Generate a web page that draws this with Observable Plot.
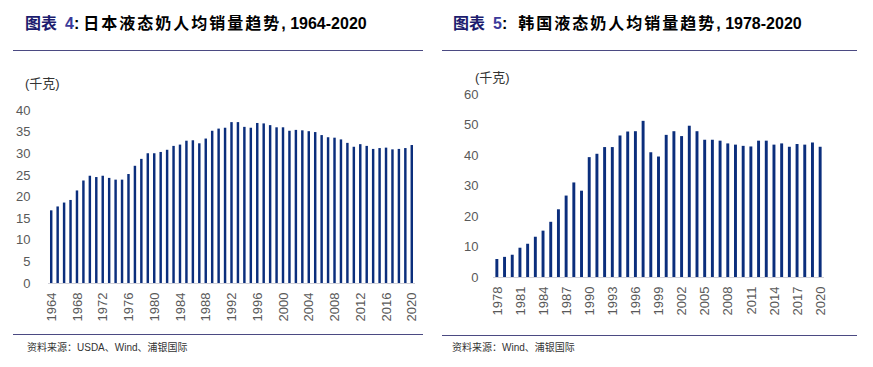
<!DOCTYPE html>
<html><head><meta charset="utf-8">
<script src="https://cdn.jsdelivr.net/npm/d3@7"></script>
<script src="https://cdn.jsdelivr.net/npm/@observablehq/plot@0.6"></script>
<style>
html,body{margin:0;padding:0;background:#fff;width:873px;height:367px;overflow:hidden;position:relative;font-family:"Liberation Sans","Noto Sans CJK SC",sans-serif;}
.abs{position:absolute;white-space:nowrap;}
.title{font-size:16px;font-weight:bold;color:#000;line-height:1;}
.title .lab{color:#1c1c6e;letter-spacing:0px;}
.title .num{color:#3a3a9a;margin-left:8px;}
.title .cjk{font-family:"Noto Sans CJK SC";letter-spacing:2px;}
.rule{position:absolute;height:0;border-top:1.3px solid #4b4a82;}
.unit{font-size:13px;color:#333;font-family:"Liberation Sans","Noto Sans CJK SC";line-height:1;}
.cap{font-size:10px;color:#333;line-height:1;font-family:"Liberation Sans","Noto Sans CJK SC";}
</style></head>
<body>
<div class="abs title" style="left:25px;top:14px;"><span class="lab">图表</span><span class="num">4</span>:<span class="cjk" style="margin-left:4px;">日本液态奶人均销量趋势</span>, 1964-2020</div>
<div class="abs title" style="left:453px;top:14px;"><span class="lab">图表</span><span class="num">5</span>:<span class="cjk" style="margin-left:11px;">韩国液态奶人均销量趋势</span>, 1978-2020</div>
<div class="rule" style="left:13px;top:50px;width:410px;"></div>
<div class="rule" style="left:442px;top:50px;width:415px;"></div>
<div class="abs unit" style="left:25px;top:77px;">(千克)</div>
<div class="abs unit" style="left:475px;top:71px;">(千克)</div>
<div id="left" class="abs" style="left:0;top:60px;"></div>
<div id="right" class="abs" style="left:440px;top:60px;"></div>
<div class="rule" style="left:13px;top:334px;width:410px;"></div>
<div class="rule" style="left:442px;top:335px;width:415px;"></div>
<div class="abs cap" style="left:27px;top:343px;">资料来源：USDA、Wind、浦银国际</div>
<div class="abs cap" style="left:452px;top:343px;">资料来源：Wind、浦银国际</div>
<script>
const jpYears = [1964,1965,1966,1967,1968,1969,1970,1971,1972,1973,1974,1975,1976,1977,1978,1979,1980,1981,1982,1983,1984,1985,1986,1987,1988,1989,1990,1991,1992,1993,1994,1995,1996,1997,1998,1999,2000,2001,2002,2003,2004,2005,2006,2007,2008,2009,2010,2011,2012,2013,2014,2015,2016,2017,2018,2019,2020];
const jpValues = [16.8,17.7,18.6,19.2,21.4,23.7,24.8,24.5,24.8,24.3,23.9,23.9,25.2,27.1,28.7,30.0,30.0,30.3,30.8,31.7,32.0,32.9,33.0,32.3,33.4,35.2,35.7,35.9,37.2,37.2,36.1,35.9,37.0,36.9,36.5,36.0,36.0,35.2,35.4,35.3,35.1,34.9,34.2,33.7,33.6,33.2,32.4,31.5,32.1,31.7,31.0,31.2,31.3,30.9,31.0,31.2,31.9];
const jpTicks = [1964,1968,1972,1976,1980,1984,1988,1992,1996,2000,2004,2008,2012,2016,2020];
const jpYTicks = [0,5,10,15,20,25,30,35,40];

const krYears = [1978,1979,1980,1981,1982,1983,1984,1985,1986,1987,1988,1989,1990,1991,1992,1993,1994,1995,1996,1997,1998,1999,2000,2001,2002,2003,2004,2005,2006,2007,2008,2009,2010,2011,2012,2013,2014,2015,2016,2017,2018,2019,2020];
const krValues = [5.9,6.6,7.3,9.6,10.9,13.2,15.2,18.1,22.2,26.7,31.0,28.3,39.3,40.4,42.6,42.6,46.4,47.7,47.8,51.2,40.9,39.5,46.6,47.8,46.2,49.6,47.8,45.0,45.0,44.7,43.8,43.4,43.0,42.8,44.7,44.7,43.4,43.8,42.7,43.6,43.4,44.1,42.7];
const krTicks = [1978,1981,1984,1987,1990,1993,1996,1999,2002,2005,2008,2011,2014,2017,2020];
const krYTicks = [0,10,20,30,40,50,60];

const barColor = "#0b2e7c";
const style = {fontFamily: "Liberation Sans, sans-serif", fontSize: "13px", color: "#595959", background: "transparent", overflow: "visible"};

function chart(years, values, ticks, yTicks, yMax, opts) {
  const data = years.map((y, i) => ({year: y, value: values[i]}));
  return Plot.plot({
    width: opts.width, height: 270,
    marginLeft: opts.ml, marginRight: opts.mr, marginTop: opts.mt, marginBottom: opts.mb,
    style,
    x: {type: "band", domain: years, paddingInner: 0.62, paddingOuter: 0.31, round: false, label: null,
        ticks, tickFormat: d => String(d), tickRotate: -90, tickSize: 0, tickPadding: 9},
    y: {domain: [0, yMax], ticks: yTicks, label: null, tickSize: 0, tickPadding: opts.yPad},
    marks: [
      Plot.barY(data, {x: "year", y: "value", fill: barColor}),
      Plot.ruleY([0], {stroke: "#d0d0d8", strokeWidth: 1.2})
    ]
  });
}

document.getElementById("left").append(chart(jpYears, jpValues, jpTicks, jpYTicks, 40,
  {width: 430, ml: 48, mr: 15, mt: 50, mb: 47, yPad: 18}));
document.getElementById("right").append(chart(krYears, krValues, krTicks, krYTicks, 60,
  {width: 433, ml: 53, mr: 49, mt: 34, mb: 53, yPad: 15}));
</script>
</body></html>
